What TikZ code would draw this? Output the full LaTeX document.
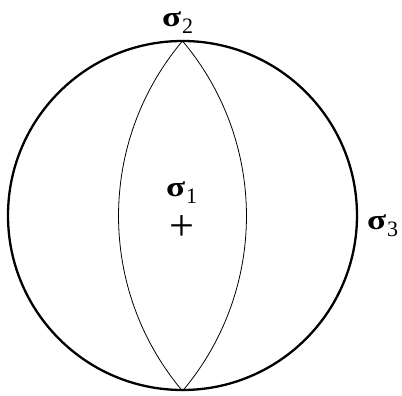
\documentclass[tikz,border=0pt]{standalone}
\usepackage{fontspec}
\setmainfont{Liberation Serif}
\newcommand\sigmalab[1]{\scalebox{1.3}[1.05]{\fontsize{27}{27}\selectfont\bfseries σ}\hspace{1pt}\raisebox{-7pt}{\fontsize{22}{22}\selectfont #1}}
\begin{document}
\begin{tikzpicture}[x=1pt,y=1pt,
  lab/.style={anchor=base west,inner sep=0pt,outer sep=0pt},
  thinarc/.style={line width=0.8pt}]
\useasboundingbox (0,0) rectangle (402,396);
\node[circle,draw,line width=2.3pt,minimum size=349pt,inner sep=0pt,outer sep=0pt] (c) at (182.5,180.5) {};
\draw[thinarc] (c.north) arc[start angle=40.17,end angle=-40.17,radius=271.3];
\draw[thinarc] (c.north) arc[start angle=139.83,end angle=220.17,radius=271.3];
\node[lab] (s2) at (162,369) {\sigmalab{2}};
\node[lab] (s1) at (166,199) {\sigmalab{1}};
\node[inner sep=0pt] (p) at (181.5,167.5) {\scalebox{1.3}{\fontsize{34}{34}\selectfont +}};
\node[lab] (s3) at (367,166) {\sigmalab{3}};
\end{tikzpicture}
\end{document}
